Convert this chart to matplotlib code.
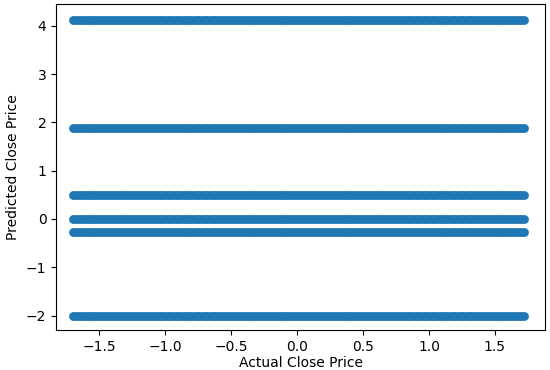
import numpy as np
import matplotlib
matplotlib.use("Agg")
import matplotlib.pyplot as plt

# Actual (standardized) close prices on the x axis
actual_close = [
    -1.70, -1.68, -1.66, -1.64, -1.62, -1.60, -1.58, -1.56, -1.54, -1.52,
    -1.50, -1.48, -1.46, -1.44, -1.42, -1.40, -1.38, -1.36, -1.34, -1.32,
    -1.30, -1.28, -1.26, -1.24, -1.22, -1.20, -1.18, -1.16, -1.14, -1.12,
    -1.10, -1.08, -1.06, -1.04, -1.02, -1.00, -0.98, -0.96, -0.94, -0.92,
    -0.90, -0.88, -0.86, -0.84, -0.82, -0.80, -0.78, -0.76, -0.74, -0.72,
    -0.70, -0.68, -0.66, -0.64, -0.62, -0.60, -0.58, -0.56, -0.54, -0.52,
    -0.50, -0.48, -0.46, -0.44, -0.42, -0.40, -0.38, -0.36, -0.34, -0.32,
    -0.30, -0.28, -0.26, -0.24, -0.22, -0.20, -0.18, -0.16, -0.14, -0.12,
    -0.10, -0.08, -0.06, -0.04, -0.02, 0.00, 0.02, 0.04, 0.06, 0.08,
    0.10, 0.12, 0.14, 0.16, 0.18, 0.20, 0.22, 0.24, 0.26, 0.28,
    0.30, 0.32, 0.34, 0.36, 0.38, 0.40, 0.42, 0.44, 0.46, 0.48,
    0.50, 0.52, 0.54, 0.56, 0.58, 0.60, 0.62, 0.64, 0.66, 0.68,
    0.70, 0.72, 0.74, 0.76, 0.78, 0.80, 0.82, 0.84, 0.86, 0.88,
    0.90, 0.92, 0.94, 0.96, 0.98, 1.00, 1.02, 1.04, 1.06, 1.08,
    1.10, 1.12, 1.14, 1.16, 1.18, 1.20, 1.22, 1.24, 1.26, 1.28,
    1.30, 1.32, 1.34, 1.36, 1.38, 1.40, 1.42, 1.44, 1.46, 1.48,
    1.50, 1.52, 1.54, 1.56, 1.58, 1.60, 1.62, 1.64, 1.66, 1.68,
    1.70, 1.72,
]

# Distinct predicted close price levels
predicted_levels = [4.13, 1.88, 0.50, 0.00, -0.26, -2.01]

xs = np.tile(actual_close, len(predicted_levels))
ys = np.repeat(predicted_levels, len(actual_close))

fig = plt.figure(figsize=(5.5, 3.7), dpi=100)
ax = fig.add_axes([0.102, 0.108, 0.889, 0.881])
ax.scatter(xs, ys, s=40, color="#1f77b4", linewidths=0)
ax.set_xlim(-1.826, 1.88)
ax.set_ylim(-2.30, 4.45)
ax.set_xticks([-1.5, -1.0, -0.5, 0.0, 0.5, 1.0, 1.5])
ax.set_yticks([-2, -1, 0, 1, 2, 3, 4])
ax.tick_params(labelsize=10)
ax.set_xlabel("Actual Close Price", fontsize=10, labelpad=1.5)
ax.set_ylabel("Predicted Close Price", fontsize=10)

fig.savefig("out.png", dpi=100)
